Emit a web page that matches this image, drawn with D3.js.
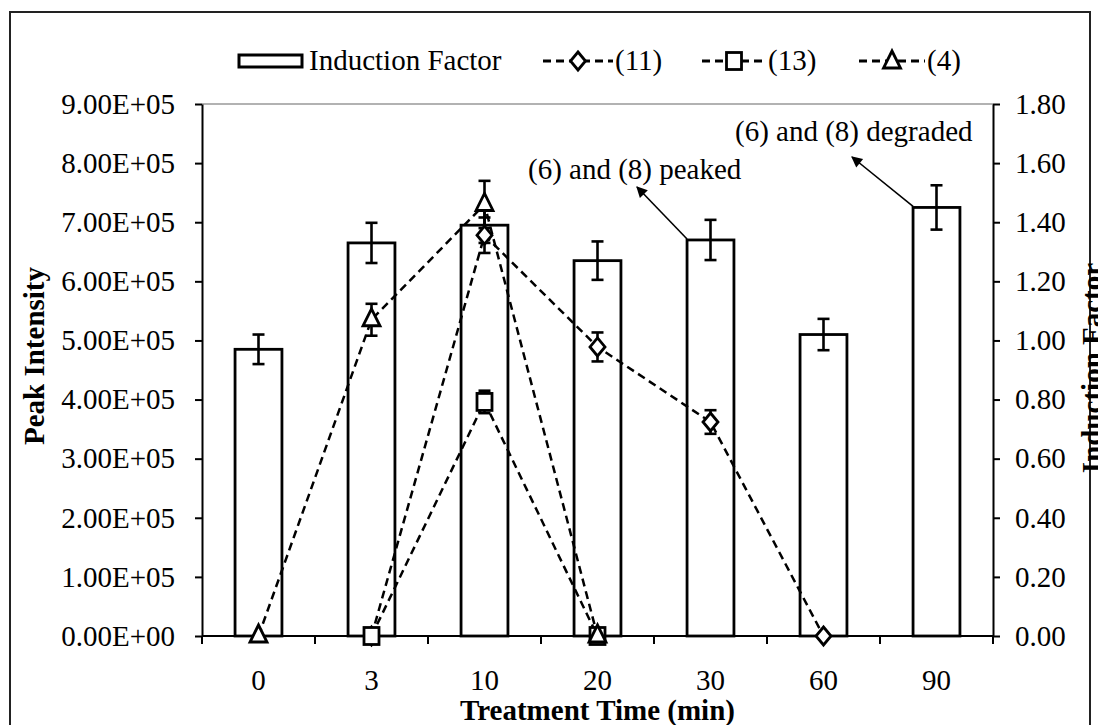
<!DOCTYPE html>
<html>
<head>
<meta charset="utf-8">
<script src="https://cdn.jsdelivr.net/npm/d3@7"></script>
<style>
  html, body { margin: 0; padding: 0; background: #fff; }
  svg { display: block; }
  text { font-family: "Liberation Serif", "Times New Roman", serif; fill: #000; }
</style>
</head>
<body>
<svg id="chart" width="1098" height="725"></svg>
<script>
// ---- data ----
const categories = ["0", "3", "10", "20", "30", "60", "90"];
const inductionFactor = [0.97, 1.33, 1.39, 1.27, 1.34, 1.02, 1.45];
const inductionErr    = [0.05, 0.068, 0.06, 0.065, 0.068, 0.053, 0.075];
const series11    = [null, 0, 6.78e5, 4.89e5, 3.62e5, 0, null];
const series11Err = [null, 0, 3.0e4, 2.45e4, 2.0e4, 0, null];
const series13    = [null, 0, 3.96e5, 0, null, null, null];
const series13Err = [null, 0, 1.9e4, 0, null, null, null];
const series4     = [0, 5.35e5, 7.3e5, 0, null, null, null];
const series4Err  = [0, 2.7e4, 4.0e4, 0, null, null, null];
const leftTicks = [0, 1e5, 2e5, 3e5, 4e5, 5e5, 6e5, 7e5, 8e5, 9e5];
const leftTickLabels = ["0.00E+00", "1.00E+05", "2.00E+05", "3.00E+05", "4.00E+05",
                        "5.00E+05", "6.00E+05", "7.00E+05", "8.00E+05", "9.00E+05"];
const rightTicks = [0, 0.2, 0.4, 0.6, 0.8, 1.0, 1.2, 1.4, 1.6, 1.8];
const rightTickLabels = ["0.00", "0.20", "0.40", "0.60", "0.80", "1.00", "1.20", "1.40", "1.60", "1.80"];
const legendLabels = ["Induction Factor", "(11)", "(13)", "(4)"];
const annotations = [
  { text: "(6) and (8) peaked", cat: "30", value: 1.34 },
  { text: "(6) and (8) degraded", cat: "90", value: 1.45 }
];

// ---- layout ----
const W = 1098, H = 725;
const plot = { left: 202, right: 993, top: 104, bottom: 636 };
const FS = 29;
const svg = d3.select("#chart");

// outer border
svg.append("rect").attr("x", 10).attr("y", 12).attr("width", 1080).attr("height", 730)
  .attr("fill", "none").attr("stroke", "#222").attr("stroke-width", 2);

const x = d3.scaleBand().domain(categories).range([plot.left, plot.right]).padding(0);
const yL = d3.scaleLinear().domain([0, 9e5]).range([plot.bottom, plot.top]);
const yR = d3.scaleLinear().domain([0, 1.8]).range([plot.bottom, plot.top]);
const cx = c => x(c) + x.bandwidth() / 2;
const barW = x.bandwidth() * 0.415;

// top plot border
svg.append("line").attr("x1", plot.left).attr("x2", plot.right)
  .attr("y1", plot.top).attr("y2", plot.top)
  .attr("stroke", "#666").attr("stroke-width", 1.2);

// bars
const barData = categories.map((c, i) => ({ c, v: inductionFactor[i], e: inductionErr[i] }));
svg.append("g").selectAll("rect").data(barData).join("rect")
  .attr("x", d => cx(d.c) - barW / 2)
  .attr("y", d => yR(d.v))
  .attr("width", barW)
  .attr("height", d => yR(0) - yR(d.v))
  .attr("fill", "#fff").attr("stroke", "#000").attr("stroke-width", 2.8);

function errorBars(g, data, yScale, capW) {
  const eg = g.append("g").attr("stroke", "#000").attr("stroke-width", 2.6).attr("fill", "none");
  data.forEach(d => {
    if (d.v == null || !d.e) return;
    const X = cx(d.c), y1 = yScale(d.v + d.e), y2 = yScale(d.v - d.e);
    eg.append("line").attr("x1", X).attr("x2", X).attr("y1", y1).attr("y2", y2);
    eg.append("line").attr("x1", X - capW / 2).attr("x2", X + capW / 2).attr("y1", y1).attr("y2", y1);
    eg.append("line").attr("x1", X - capW / 2).attr("x2", X + capW / 2).attr("y1", y2).attr("y2", y2);
  });
}
errorBars(svg, barData, yR, 12);

// axes
const gL = svg.append("g").attr("transform", `translate(${plot.left},0)`)
  .call(d3.axisLeft(yL).tickValues(leftTicks).tickFormat((d, i) => leftTickLabels[i])
    .tickSize(7).tickSizeOuter(0).tickPadding(20));
const gR = svg.append("g").attr("transform", `translate(${plot.right},0)`)
  .call(d3.axisRight(yR).tickValues(rightTicks).tickFormat((d, i) => rightTickLabels[i])
    .tickSize(7).tickSizeOuter(0).tickPadding(15));
const gB = svg.append("g").attr("transform", `translate(0,${plot.bottom})`)
  .call(d3.axisBottom(x).tickSize(0).tickPadding(33));
gB.select(".domain").remove();
[gL, gR].forEach(g => {
  g.select(".domain").attr("stroke", "#000").attr("stroke-width", 2);
  g.selectAll(".tick line").attr("stroke", "#000").attr("stroke-width", 2);
});
[gL, gR, gB].forEach(g => g.selectAll(".tick text")
  .attr("font-family", '"Liberation Serif", "Times New Roman", serif')
  .attr("font-size", FS).attr("fill", "#000"));
// bottom axis line and boundary ticks
svg.append("line").attr("x1", plot.left).attr("x2", plot.right)
  .attr("y1", plot.bottom).attr("y2", plot.bottom).attr("stroke", "#000").attr("stroke-width", 2);
const bounds = categories.map(c => x(c)).concat([x.range()[1]]);
svg.append("g").selectAll("line").data(bounds).join("line")
  .attr("x1", d => d).attr("x2", d => d)
  .attr("y1", plot.bottom).attr("y2", plot.bottom + 8)
  .attr("stroke", "#000").attr("stroke-width", 2);

// lines
const lineSeries = [
  { vals: series11, errs: series11Err, sym: "diamond" },
  { vals: series13, errs: series13Err, sym: "square" },
  { vals: series4,  errs: series4Err,  sym: "triangle" }
];
const lineGen = d3.line().defined(d => d.v != null).x(d => cx(d.c)).y(d => yL(d.v));
lineSeries.forEach(s => {
  s.data = categories.map((c, i) => ({ c, v: s.vals[i], e: s.errs[i] }));
  svg.append("path").datum(s.data).attr("d", lineGen)
    .attr("fill", "none").attr("stroke", "#000").attr("stroke-width", 2.5)
    .attr("stroke-dasharray", "8,5");
});
lineSeries.forEach(s => errorBars(svg, s.data, yL, 12));

function drawMarker(g, sym, X, Y) {
  if (sym === "diamond") {
    g.append("path").attr("d", `M${X},${Y - 9}L${X + 7.5},${Y}L${X},${Y + 9}L${X - 7.5},${Y}Z`)
      .attr("fill", "#fff").attr("stroke", "#000").attr("stroke-width", 2.8);
  } else if (sym === "square") {
    g.append("rect").attr("x", X - 7.5).attr("y", Y - 8.5).attr("width", 15).attr("height", 17)
      .attr("fill", "#fff").attr("stroke", "#000").attr("stroke-width", 2.8);
  } else {
    g.append("path").attr("d", `M${X},${Y - 11}L${X + 8.5},${Y + 6}L${X - 8.5},${Y + 6}Z`)
      .attr("fill", "#fff").attr("stroke", "#000").attr("stroke-width", 2.8);
  }
}
lineSeries.forEach(s => {
  const mg = svg.append("g");
  s.data.forEach(d => { if (d.v != null) drawMarker(mg, s.sym, cx(d.c), yL(d.v)); });
});

// annotations
const defs = svg.append("defs");
defs.append("marker").attr("id", "arrow").attr("viewBox", "0 0 10 10")
  .attr("refX", 9).attr("refY", 5).attr("markerWidth", 14).attr("markerHeight", 11)
  .attr("markerUnits", "userSpaceOnUse").attr("orient", "auto")
  .append("path").attr("d", "M0,0L10,5L0,10Z").attr("fill", "#000");
const a1 = annotations[0], a2 = annotations[1];
svg.append("line")
  .attr("x1", cx(a1.cat) - barW / 2).attr("y1", yR(a1.value) - 1)
  .attr("x2", 637).attr("y2", 187)
  .attr("stroke", "#000").attr("stroke-width", 1.6).attr("marker-end", "url(#arrow)");
svg.append("text").attr("x", 528).attr("y", 179).attr("font-size", FS).text(a1.text);
svg.append("line")
  .attr("x1", cx(a2.cat) - barW / 2).attr("y1", yR(a2.value) - 1)
  .attr("x2", 852).attr("y2", 157)
  .attr("stroke", "#000").attr("stroke-width", 1.6).attr("marker-end", "url(#arrow)");
svg.append("text").attr("x", 735).attr("y", 141).attr("font-size", FS).text(a2.text);

// axis titles
svg.append("text").attr("transform", `translate(44,356) rotate(-90)`)
  .attr("text-anchor", "middle").attr("font-size", FS).attr("font-weight", "bold").text("Peak Intensity");
svg.append("text").attr("transform", `translate(1102,368) rotate(-90)`)
  .attr("text-anchor", "middle").attr("font-size", FS).attr("font-weight", "bold").text("Induction Factor");
svg.append("text").attr("x", (plot.left + plot.right) / 2).attr("y", 720)
  .attr("text-anchor", "middle").attr("font-size", FS).attr("font-weight", "bold").text("Treatment Time (min)");

// legend
const lg = svg.append("g");
const LY = 61;
lg.append("rect").attr("x", 239).attr("y", LY - 6).attr("width", 63).attr("height", 12)
  .attr("fill", "#fff").attr("stroke", "#000").attr("stroke-width", 3);
lg.append("text").attr("x", 309).attr("y", LY + 9).attr("font-size", FS).text(legendLabels[0]);
const legItems = [
  { sym: "diamond", x0: 543, x1: 613, tx: 615, label: legendLabels[1] },
  { sym: "square", x0: 702, x1: 766, tx: 768, label: legendLabels[2] },
  { sym: "triangle", x0: 859, x1: 925, tx: 927, label: legendLabels[3] }
];
legItems.forEach(it => {
  lg.append("line").attr("x1", it.x0).attr("x2", it.x1).attr("y1", LY).attr("y2", LY)
    .attr("stroke", "#000").attr("stroke-width", 3).attr("stroke-dasharray", "8,5");
  drawMarker(lg, it.sym, (it.x0 + it.x1) / 2, LY + (it.sym === "triangle" ? 1 : 0));
  lg.append("text").attr("x", it.tx).attr("y", LY + 9).attr("font-size", FS).text(it.label);
});
</script>
</body>
</html>
